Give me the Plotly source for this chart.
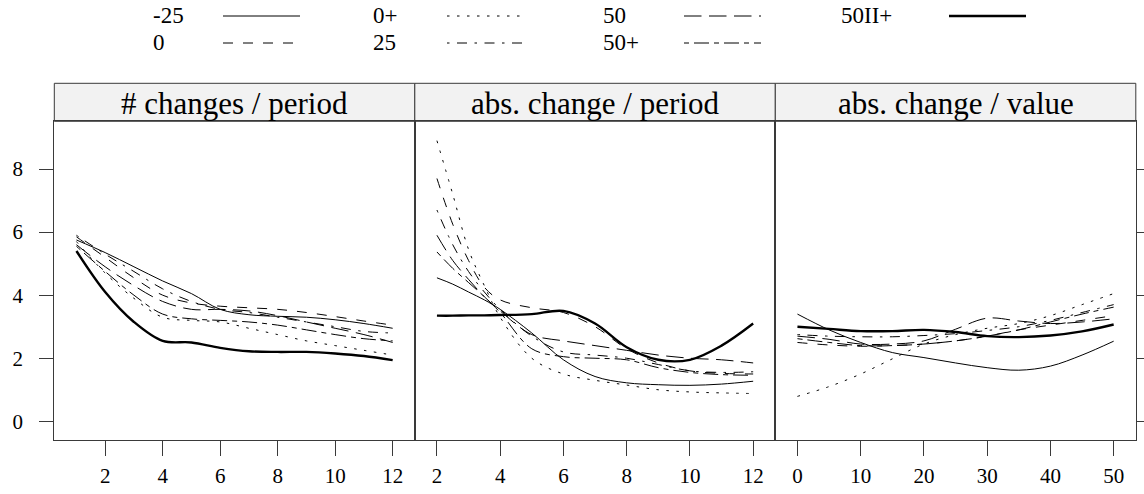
import plotly.graph_objects as go

W, H = 1144, 494

# ---------------- data ----------------
series = ["-25", "0", "0+", "25", "50", "50+", "50II+"]
panel_titles = ["# changes / period", "abs. change / period", "abs. change / value"]

# panel 1: # changes / period
p1_x = [1, 2, 3, 4, 5, 6, 7, 8, 9, 10, 11, 12]
p1_m25 = [5.75, 5.35, 4.9, 4.45, 4.05, 3.55, 3.38, 3.33, 3.3, 3.22, 3.1, 2.95]
p1_0 = [5.85, 5.2, 4.55, 4.0, 3.75, 3.65, 3.6, 3.55, 3.45, 3.32, 3.18, 3.05]
p1_0p = [5.7, 4.7, 3.9, 3.3, 3.2, 3.15, 2.95, 2.75, 2.55, 2.4, 2.25, 2.1]
p1_25 = [5.9, 5.3, 4.75, 4.2, 3.8, 3.55, 3.45, 3.3, 3.15, 3.0, 2.85, 2.8]
p1_50 = [5.6, 4.9, 4.3, 3.8, 3.55, 3.55, 3.5, 3.35, 3.15, 2.95, 2.75, 2.5]
p1_50p = [5.55, 4.75, 4.0, 3.4, 3.25, 3.2, 3.15, 3.05, 2.9, 2.75, 2.62, 2.55]
p1_50IIp = [5.4, 4.1, 3.15, 2.55, 2.5, 2.33, 2.22, 2.2, 2.2, 2.15, 2.07, 1.94]

# panel 2: abs. change / period
p2_x = [2, 2.5, 3, 3.5, 4, 5, 6, 7, 8, 9, 10, 11, 12]
p2_m25 = [4.55, 4.35, 4.1, 3.85, 3.55, 2.8, 1.95, 1.42, 1.22, 1.16, 1.14, 1.18, 1.27]
p2_0 = [7.7, 6.25, 5.1, 4.25, 3.85, 3.6, 3.45, 3.0, 2.3, 1.85, 1.6, 1.52, 1.5]
p2_0p = [8.9, 7.2, 5.45, 4.3, 3.3, 2.0, 1.5, 1.3, 1.15, 1.0, 0.93, 0.9, 0.88]
p2_25 = [6.7, 5.6, 4.75, 4.1, 3.55, 2.7, 2.2, 2.1, 2.0, 1.8, 1.6, 1.55, 1.57]
p2_50 = [5.9, 5.1, 4.5, 3.95, 3.5, 2.75, 2.55, 2.4, 2.25, 2.1, 2.0, 1.95, 1.85]
p2_50p = [5.37, 4.85, 4.4, 3.95, 3.45, 2.3, 2.05, 2.0, 1.95, 1.7, 1.55, 1.48, 1.46]
p2_50IIp = [3.35, 3.35, 3.36, 3.36, 3.37, 3.4, 3.5, 3.1, 2.35, 1.95, 1.95, 2.4, 3.1]

# panel 3: abs. change / value
p3_x = [0, 5, 10, 15, 20, 25, 30, 35, 40, 45, 50]
p3_m25 = [3.4, 2.9, 2.5, 2.18, 2.02, 1.85, 1.7, 1.62, 1.75, 2.1, 2.54]
p3_0 = [2.5, 2.42, 2.38, 2.4, 2.45, 2.55, 2.7, 2.9, 3.05, 3.2, 3.35]
p3_0p = [0.79, 1.1, 1.5, 1.98, 2.45, 2.75, 2.95, 3.1, 3.35, 3.7, 4.05]
p3_25 = [2.75, 2.7, 2.68, 2.68, 2.72, 2.78, 2.88, 3.0, 3.2, 3.45, 3.7]
p3_50 = [2.7, 2.6, 2.45, 2.45, 2.55, 2.92, 3.27, 3.18, 3.1, 3.15, 3.25]
p3_50p = [2.62, 2.5, 2.4, 2.4, 2.45, 2.55, 2.7, 2.9, 3.15, 3.4, 3.62]
p3_50IIp = [3.0, 2.93, 2.86, 2.86, 2.9, 2.83, 2.7, 2.67, 2.72, 2.85, 3.07]

x_ticks_1 = [2, 4, 6, 8, 10, 12]
x_ticks_2 = [2, 4, 6, 8, 10, 12]
x_ticks_3 = [0, 10, 20, 30, 40, 50]
y_ticks = [0, 2, 4, 6, 8]

panels = [
    (p1_x, [p1_m25, p1_0, p1_0p, p1_25, p1_50, p1_50p, p1_50IIp]),
    (p2_x, [p2_m25, p2_0, p2_0p, p2_25, p2_50, p2_50p, p2_50IIp]),
    (p3_x, [p3_m25, p3_0, p3_0p, p3_25, p3_50, p3_50p, p3_50IIp]),
]

# ---------------- styles ----------------
FONT = "Liberation Serif"
AX = "#3a3a3a"
styles = {
    "-25": dict(dash="solid", width=1),
    "0": dict(dash="10px,10px", width=1),
    "0+": dict(dash="2.5px,7.5px", width=1),
    "25": dict(dash="2.5px,7.5px,10px,7.5px", width=1),
    "50": dict(dash="17.5px,7.5px", width=1),
    "50+": dict(dash="5px,5px,15px,5px", width=1),
    "50II+": dict(dash="solid", width=2.4),
}

fig = go.Figure()
for i, (xs, ys_list) in enumerate(panels):
    suffix = "" if i == 0 else str(i + 1)
    for name, ys in zip(series, ys_list):
        st = styles[name]
        fig.add_trace(go.Scatter(
            x=xs, y=ys, mode="lines", name=name, showlegend=False,
            line=dict(color="black", width=st["width"], dash=st["dash"],
                      shape="spline", smoothing=1.0),
            xaxis="x" + suffix, yaxis="y" + suffix, hoverinfo="skip"))

# ---------------- layout geometry (px) ----------------
left, right = 54.3, 1135.8
pw = (right - left) / 3
top, bottom = 121.3, 440.3
strip_top = 83.3

def fx(px):
    return px / W

def fy(py):
    return 1 - py / H

ydom = [fy(bottom), fy(top)]
yrange = [-0.603, 9.514]
xranges = [[0.23, 12.77], [1.3, 12.7], [-3.5, 53.5]]
xticks = [x_ticks_1, x_ticks_2, x_ticks_3]

layout = dict(
    width=W, height=H, margin=dict(l=0, r=0, t=0, b=0),
    paper_bgcolor="white", plot_bgcolor="white",
    font=dict(family=FONT, color="black", size=22),
    showlegend=False,
)
for i in range(3):
    suffix = "" if i == 0 else str(i + 1)
    x0 = left + i * pw
    layout["xaxis" + suffix] = dict(
        domain=[fx(x0), fx(x0 + pw)], range=xranges[i], tickvals=xticks[i],
        ticks="outside", ticklen=15, tickcolor=AX, tickwidth=1,
        showline=True, mirror=True, linecolor=AX, linewidth=1,
        showgrid=False, zeroline=False, anchor="y" + suffix,
        tickfont=dict(size=21, family=FONT), ticklabelstandoff=1,
    )
    yd = dict(
        domain=ydom, range=yrange, tickvals=y_ticks,
        showline=True, mirror=True, linecolor=AX, linewidth=1,
        showgrid=False, zeroline=False, anchor="x" + suffix,
        tickfont=dict(size=21, family=FONT),
    )
    if i == 0:
        yd.update(ticks="outside", ticklen=14, tickcolor=AX, side="left",
                  ticklabelstandoff=12)
    elif i == 1:
        yd.update(ticks="", showticklabels=False)
    else:
        yd.update(ticks="outside", ticklen=8, tickcolor=AX, side="right",
                  showticklabels=False)
    layout["yaxis" + suffix] = yd

shapes = []
annotations = []
for i in range(3):
    x0 = left + i * pw
    shapes.append(dict(type="rect", xref="paper", yref="paper",
                       x0=fx(x0), x1=fx(x0 + pw), y0=fy(top), y1=fy(strip_top),
                       fillcolor="#f2f2f2", line=dict(color=AX, width=1), layer="below"))
    annotations.append(dict(text=panel_titles[i], xref="paper", yref="paper",
                            x=fx(x0 + pw / 2), y=fy((top + strip_top) / 2 + 1),
                            showarrow=False, xanchor="center", yanchor="middle",
                            font=dict(size=31, family=FONT)))

# ---------------- key (legend) ----------------
key_rows = [
    [("-25", 151, 223), ("0+", 371, 447), ("50", 601, 684), ("50II+", 839, 949)],
    [("0", 151, 223), ("25", 371, 447), ("50+", 601, 684)],
]
row_y = [16, 43]
line_len = 77
for r, row in enumerate(key_rows):
    for name, tx, lx in row:
        annotations.append(dict(text=name, xref="paper", yref="paper",
                                x=fx(tx), y=fy(row_y[r]), showarrow=False,
                                xanchor="left", yanchor="middle",
                                font=dict(size=23, family=FONT)))
        st = styles[name]
        shapes.append(dict(type="line", xref="paper", yref="paper",
                           x0=fx(lx), x1=fx(lx + line_len),
                           y0=fy(row_y[r]), y1=fy(row_y[r]),
                           line=dict(color="black", width=st["width"], dash=st["dash"])))

layout["shapes"] = shapes
layout["annotations"] = annotations
fig.update_layout(**layout)
fig.write_html("out.html")
